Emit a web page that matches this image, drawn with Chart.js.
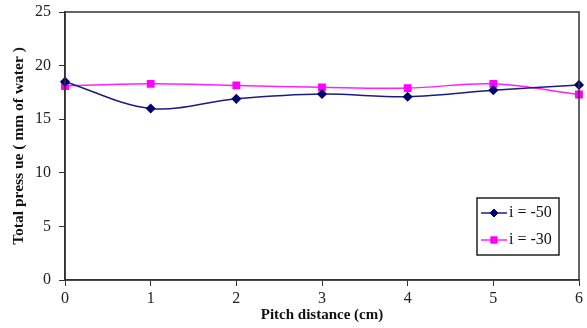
<!DOCTYPE html>
<html>
<head>
<meta charset="utf-8">
<script src="https://cdn.jsdelivr.net/npm/chart.js@4"></script>
<style>
  html, body { margin: 0; padding: 0; background: #fff; }
  #wrap { width: 587px; height: 328px; position: relative; }
</style>
</head>
<body>
<div id="wrap"><canvas id="c" width="587" height="328"></canvas></div>
<script>
const pitch = [0, 1, 2, 3, 4, 5, 6];
const seriesA = [18.5, 16.0, 16.9, 17.35, 17.1, 17.7, 18.2];   // i = -50
const seriesB = [18.1, 18.3, 18.15, 17.97, 17.9, 18.3, 17.3];  // i = -30
const yTicks = [0, 5, 10, 15, 20, 25];

const SERIF = "'Liberation Serif', 'DejaVu Serif', serif";
const AXIS = '#333';

const toPts = (ys) => pitch.map((x, i) => ({ x, y: ys[i] }));

// frame round the plot + legend box inside it
const framePlugin = {
  id: 'frame',
  afterDraw(chart) {
    const { ctx, chartArea: a } = chart;
    ctx.save();
    ctx.strokeStyle = AXIS;
    ctx.lineWidth = 1.5;
    ctx.strokeRect(a.left, a.top, a.right - a.left, a.bottom - a.top);

    // legend
    const bx = 477, by = 198, bw = 82, bh = 57;
    ctx.fillStyle = '#fff';
    ctx.fillRect(bx, by, bw, bh);
    ctx.strokeStyle = '#222';
    ctx.lineWidth = 1.5;
    ctx.strokeRect(bx, by, bw, bh);
    ctx.font = `16px ${SERIF}`;
    ctx.textBaseline = 'middle';
    chart.data.datasets.forEach((ds, i) => {
      const y = by + 15 + i * 27;
      ctx.strokeStyle = ds.borderColor;
      ctx.lineWidth = 1.5;
      ctx.beginPath();
      ctx.moveTo(bx + 4, y);
      ctx.lineTo(bx + 30, y);
      ctx.stroke();
      ctx.fillStyle = ds.pointBackgroundColor;
      ctx.strokeStyle = ds.pointBorderColor;
      ctx.lineWidth = 1;
      Chart.helpers.drawPoint(ctx, {
        pointStyle: ds.pointStyle, radius: ds.pointRadius, borderWidth: 1
      }, bx + 17, y);
      ctx.fillStyle = '#111';
      ctx.fillText(ds.label, bx + 32, y);
    });
    ctx.restore();
  }
};

new Chart(document.getElementById('c'), {
  type: 'line',
  data: {
    datasets: [
      {
        label: 'i = -50', data: toPts(seriesA),
        borderColor: '#1c1c80', backgroundColor: '#000070',
        pointBackgroundColor: '#000070', pointBorderColor: '#000070',
        pointStyle: 'rectRot', pointRadius: 4, borderWidth: 1.5,
        tension: 0.35
      },
      {
        label: 'i = -30', data: toPts(seriesB),
        borderColor: '#ff20ff', backgroundColor: '#ff00ff',
        pointBackgroundColor: '#ff00ff', pointBorderColor: '#ff00ff',
        pointStyle: 'rect', pointRadius: 4.5, borderWidth: 1.5,
        tension: 0.35
      }
    ]
  },
  options: {
    animation: false, responsive: false, devicePixelRatio: 1,
    layout: { padding: { left: 0, right: 8, top: 12, bottom: 0 } },
    clip: false,
    scales: {
      x: {
        type: 'linear', min: 0, max: 6,
        afterFit: (s) => { s.height = 48; },
        grid: { drawOnChartArea: false, drawTicks: true, tickLength: 6, color: AXIS, tickColor: AXIS },
        border: { display: true, color: AXIS, width: 1.5 },
        ticks: { stepSize: 1, color: '#222', padding: 3, font: { family: SERIF, size: 16 } },
        title: {
          display: true, text: 'Pitch distance (cm)', color: '#111',
          font: { family: SERIF, size: 15, weight: 'bold' }, padding: { top: 0 }
        }
      },
      y: {
        min: 0, max: 25,
        afterFit: (s) => { s.width = 65; s.paddingTop = 0; s.paddingBottom = 0; },
        afterBuildTicks: (s) => { s.ticks = yTicks.map(v => ({ value: v })); },
        grid: { drawOnChartArea: false, drawTicks: true, tickLength: 6, color: AXIS, tickColor: AXIS },
        border: { display: true, color: AXIS, width: 1.5 },
        ticks: { color: '#222', padding: 8, font: { family: SERIF, size: 16 } },
        title: {
          display: true, text: 'Total press ue ( mm of water )', color: '#111',
          font: { family: SERIF, size: 15.5, weight: 'bold' }, padding: { top: 10, bottom: 2 }
        }
      }
    },
    plugins: { legend: { display: false }, tooltip: { enabled: false } }
  },
  plugins: [framePlugin]
});
</script>
</body>
</html>
